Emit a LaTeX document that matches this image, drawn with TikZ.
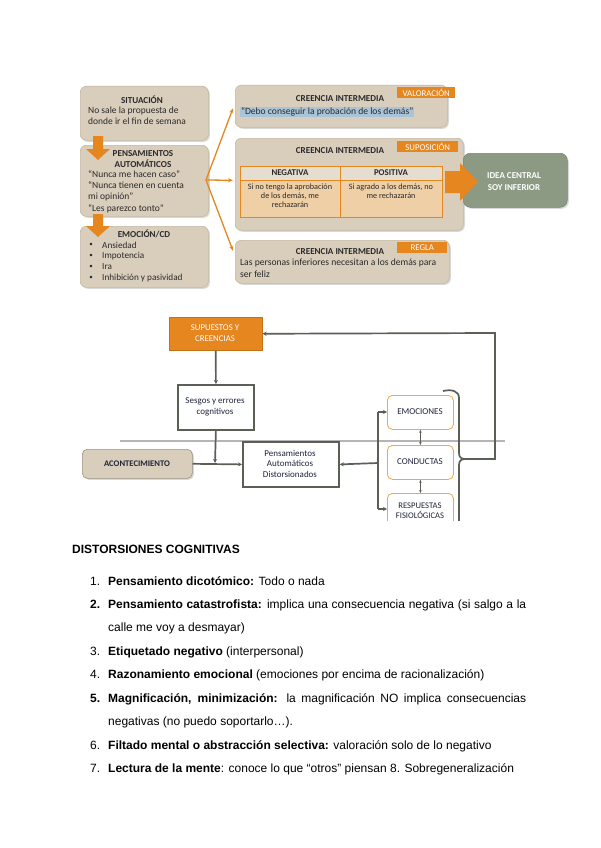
\documentclass[tikz,border=0pt]{standalone}
\usepackage{fontspec}
\setmainfont{Carlito}
\newfontfamily\arialf{Liberation Sans}
\usetikzlibrary{shadows,arrows.meta,calc}
\definecolor{boxtan}{HTML}{D9CEBC}
\definecolor{boxtanD}{HTML}{C4B79F}
\definecolor{orng}{HTML}{E6861F}
\definecolor{ideag}{HTML}{8C9A84}
\definecolor{lightor}{HTML}{EFCFA5}
\definecolor{hlblue}{HTML}{A9C4D8}
\definecolor{lgray}{HTML}{5B6057}
\definecolor{orbord}{HTML}{F2A54A}
\definecolor{txtd}{HTML}{2A2A2A}
\definecolor{txtn}{HTML}{1F2438}
\definecolor{sepgray}{HTML}{B5B5B5}
\tikzset{
  tanbox/.style={draw=boxtanD, fill=boxtan, rounded corners=6pt, line width=0.6pt,
    drop shadow={opacity=0.3, shadow xshift=1.5pt, shadow yshift=-1.5pt}, anchor=north west, inner sep=0pt},
  tagbox/.style={fill=orng, text=white, font=\fontsize{8.8}{9}\selectfont, anchor=north west, inner sep=0pt},
  ttl/.style={font=\fontsize{9.1}{10}\selectfont\bfseries, text=txtd, inner sep=0pt},
  body/.style={font=\fontsize{9.5}{11.5}\selectfont, text=txtd, inner sep=0pt, align=left, anchor=north west},
  fan/.style={draw=orng, line width=1.3pt, -{Stealth[length=5pt,width=4pt]}},
  lbox/.style={draw=lgray, line width=1.8pt, fill=white, anchor=north west, inner sep=0pt},
  obox/.style={draw=orbord, line width=0.8pt, fill=white, rounded corners=5pt, anchor=north west, inner sep=0pt},
  ltxt/.style={font=\fontsize{9}{10.5}\selectfont, text=txtn, align=center, inner sep=0pt},
  lline/.style={draw=lgray, line width=1.7pt},
  larr/.style={lline, -{Stealth[length=4pt,width=4pt]}},
  dbl/.style={draw=lgray, line width=0.6pt, {Stealth[length=3pt,width=2.5pt]}-{Stealth[length=3pt,width=2.5pt]}},
  lst/.style={anchor=base west, inner sep=0pt, font=\arialf\fontsize{12}{14}\selectfont},
}
\begin{document}
\begin{tikzpicture}[x=1pt,y=-1pt]
\useasboundingbox[fill=white] (0,0) rectangle (600,848);

% ---------------- top diagram ----------------
\node[tanbox, minimum width=128pt, minimum height=54pt] (sit) at (80,86) {};
\node[tanbox, minimum width=128pt, minimum height=71pt] (pen) at (80,145) {};
\node[tanbox, minimum width=128pt, minimum height=61pt] (emo) at (80,226) {};

% orange block arrows
\fill[orng] (93,136) -- (103,136) -- (103,149) -- (110,149) -- (98,160) -- (86,149) -- (93,149) -- cycle;
\fill[orng] (93,214) -- (103,214) -- (103,226) -- (110,226) -- (98,237) -- (86,226) -- (93,226) -- cycle;

\node[ttl] (sitT) at (142,100) {SITUACIÓN};
\node[body] (sitB) at (88,106.5) {No sale la propuesta de\\donde ir el fin de semana};

\node[ttl] (penT1) at (143,153.5) {PENSAMIENTOS};
\node[ttl] (penT2) at (143,163.5) {AUTOMÁTICOS};
\node[body, font=\fontsize{9.5}{11.2}\selectfont] (penB) at (88,170.5) {“Nunca me hacen caso”\\“Nunca tienen en cuenta\\mi opinión”\\“Les parezco tonto”};

\node[ttl] (emoT) at (144,234) {EMOCIÓN/CD};
\foreach \yy/\tt [count=\i] in {245/Ansiedad,256/Impotencia,267/Ira,278/Inhibición y pasividad}{
  \node[font=\fontsize{7}{8}\selectfont, text=txtd, inner sep=0pt] (bul\i) at (91,\yy) {\textbullet};
  \node[font=\fontsize{9.2}{10}\selectfont, text=txtd, inner sep=0pt, anchor=west] (bt\i) at (102,\yy) {\tt};
}

% creencia boxes
\node[tanbox, minimum width=212pt, minimum height=42pt] (cr1) at (235,85) {};
\node[tanbox, minimum width=228pt, minimum height=92pt] (cr2) at (235,138) {};
\node[tanbox, minimum width=214pt, minimum height=43pt] (cr3) at (235,240) {};

\node[tagbox, minimum width=58pt, minimum height=11pt] (tag1) at (397,87) {VALORACIÓN};
\node[tagbox, minimum width=61pt, minimum height=11pt] (tag2) at (397,141) {SUPOSICIÓN};
\node[tagbox, minimum width=50pt, minimum height=11pt] (tag3) at (397,242) {REGLA};

\node[ttl] (c1T) at (340,99) {CREENCIA INTERMEDIA};
\node[fill=hlblue, inner sep=0.8pt, font=\fontsize{9.6}{10}\selectfont, text=txtd, anchor=west] (c1B) at (240,112) {“Debo conseguir la probación de los demás”};

\node[ttl] (c2T) at (340,151) {CREENCIA INTERMEDIA};
% table
\fill[boxtan!70!white] (240,166) rectangle (442,180);
\fill[lightor] (240,180) rectangle (442,217);
\draw[orng, line width=0.7pt] (240,166) rectangle (442,217);
\draw[orng, line width=0.7pt] (240,180) -- (442,180);
\draw[orng, line width=0.7pt] (340,166) -- (340,217);
\node[font=\fontsize{8.8}{9}\selectfont\bfseries, text=txtd, inner sep=0pt] (neg) at (290,173) {NEGATIVA};
\node[font=\fontsize{8.8}{9}\selectfont\bfseries, text=txtd, inner sep=0pt] (pos) at (391,173) {POSITIVA};
\node[font=\fontsize{8.2}{9}\selectfont, text=txtd, inner sep=0pt, align=center, anchor=north] (negB) at (290,184) {Si no tengo la aprobación\\de los demás, me\\rechazarán};
\node[font=\fontsize{8.2}{9}\selectfont, text=txtd, inner sep=0pt, align=center, anchor=north] (posB) at (391,184) {Si agrado a los demás, no\\me rechazarán};

\node[ttl] (c3T) at (340,252) {CREENCIA INTERMEDIA};
\node[body, font=\fontsize{9.6}{12}\selectfont] (c3B) at (240,258.5) {Las personas inferiores necesitan a los demás para\\ser feliz};

% idea central
\node[fill=ideag, draw=ideag!85!black, line width=0.5pt, rounded corners=7pt, anchor=north west, minimum width=104pt, minimum height=54pt, inner sep=0pt,
  drop shadow={opacity=0.3, shadow xshift=1.5pt, shadow yshift=-1.5pt}] (idea) at (463,153) {};
\node[font=\fontsize{9}{12}\selectfont\bfseries, text=white, align=center, inner sep=0pt] (ideaT) at (514,182) {IDEA CENTRAL\\SOY INFERIOR};
% big arrow
\fill[orng] (445,171) -- (460,171) -- (460,163) -- (478,182) -- (460,201) -- (460,193) -- (445,193) -- cycle;

% fan
\coordinate (fanO) at (206,180);
\draw[fan] (fanO) -- ($(cr1.west)+(-2,2)$);
\draw[fan] (fanO) -- ($(cr2.west)+(-2,-4)$);
\draw[fan] (fanO) -- ($(cr3.west)+(-2,-11)$);

% ---------------- lower diagram ----------------
\draw[sepgray, line width=1.2pt] (120,441) -- (505,441);

\node[fill=orng, draw=orng!85!black, line width=0.5pt, anchor=north west, minimum width=93pt, minimum height=33pt, inner sep=0pt] (sup) at (169,317) {};
\node[font=\fontsize{8.8}{10.5}\selectfont, text=white, align=center, inner sep=0pt] (supT) at (215,333) {SUPUESTOS Y\\CREENCIAS};

\node[lbox, minimum width=76pt, minimum height=45pt] (ses) at (177,384) {};
\node[ltxt] (sesT) at (215,407) {Sesgos y errores\\cognitivos};

\node[tanbox, draw=boxtanD!80!black, rounded corners=5pt, minimum width=110pt, minimum height=29pt] (aco) at (82,449) {};
\node[ttl, font=\fontsize{8.6}{9}\selectfont\bfseries, text=txtn] (acoT) at (137,464) {ACONTECIMIENTO};

\node[lbox, minimum width=96pt, minimum height=45pt] (pad) at (242,441) {};
\node[ltxt] (padT) at (290,463.5) {Pensamientos\\Automáticos\\Distorsionados};

\begin{scope}
\clip (0,0) rectangle (600,520);
\node[obox, minimum width=66pt, minimum height=34pt] (emc) at (387,395) {};
\node[ltxt] (emcT) at (420,412) {EMOCIONES};
\node[obox, minimum width=66pt, minimum height=34pt] (con) at (387,445) {};
\node[ltxt] (conT) at (420,462) {CONDUCTAS};
\node[obox, minimum width=66pt, minimum height=40pt] (res) at (387,493) {};
\node[ltxt, font=\fontsize{8.6}{10}\selectfont] (resT) at (420,510.5) {RESPUESTAS\\FISIOLÓGICAS};

% brace
\draw[lline] (443,391) .. controls (452,389) and (459,391) .. (459,398) -- (459,453)
  .. controls (459,457) and (461,459) .. (465,459) .. controls (461,459) and (459,461) .. (459,465) -- (459,525);
\coordinate (brT) at (465,459);
\coordinate (lpA) at (495,459);
\coordinate (lpB) at (495,333);
\draw[larr] (brT) -- (lpA) -- (lpB) -- (sup.east);

% branch
\coordinate (bj) at (378,463);
\coordinate (bjT) at (378,412);
\coordinate (bjB) at (378,509);
\draw[larr] (bj) -- (pad.east);
\draw[lline] (bjT) -- (bjB);
\draw[larr] (bjT) -- (emc.west |- bjT);
\draw[larr] (bjB) -- (res.west |- bjB);
\end{scope}

\draw[dbl] (emc.south) -- (con.north);
\draw[dbl] (con.south) -- (res.north);

\draw[larr] (sup.south) -- (ses.north);
\coordinate (sj) at (215,463);
\draw[larr] (ses.south) -- (sj);
\draw[larr] (aco.east) -- (pad.west);

% ---------------- text section ----------------
\node[lst] (title) at (72,553) {\bfseries DISTORSIONES COGNITIVAS};
\node[lst] (n1) at (90,585) {1.};
\node[lst] (t1) at (108,585) {\textbf{Pensamiento dicotómico:} Todo o nada};
\node[lst] (n2) at (90,608) {\textbf{2.}};
\node[lst] (t2) at (108,608) {\makebox[418pt][s]{\textbf{Pensamiento catastrofista:} implica una consecuencia negativa (si salgo a la}};
\node[lst] (t2b) at (108,631) {calle me voy a desmayar)};
\node[lst] (n3) at (90,655) {3.};
\node[lst] (t3) at (108,655) {\textbf{Etiquetado negativo} (interpersonal)};
\node[lst] (n4) at (90,678) {4.};
\node[lst] (t4) at (108,678) {\textbf{Razonamiento emocional} (emociones por encima de racionalización)};
\node[lst] (n5) at (90,702) {\textbf{5.}};
\node[lst] (t5) at (108,702) {\makebox[418pt][s]{\textbf{Magnificación, minimización:} la magnificación NO implica consecuencias}};
\node[lst] (t5b) at (108,725) {negativas (no puedo soportarlo…).};
\node[lst] (n6) at (90,749) {6.};
\node[lst] (t6) at (108,749) {\textbf{Filtado mental o abstracción selectiva:} valoración solo de lo negativo};
\node[lst] (n7) at (90,772) {7.};
\node[lst] (t7) at (108,772) {\textbf{Lectura de la mente}: conoce lo que “otros” piensan 8. Sobregeneralización};
\end{tikzpicture}
\end{document}
